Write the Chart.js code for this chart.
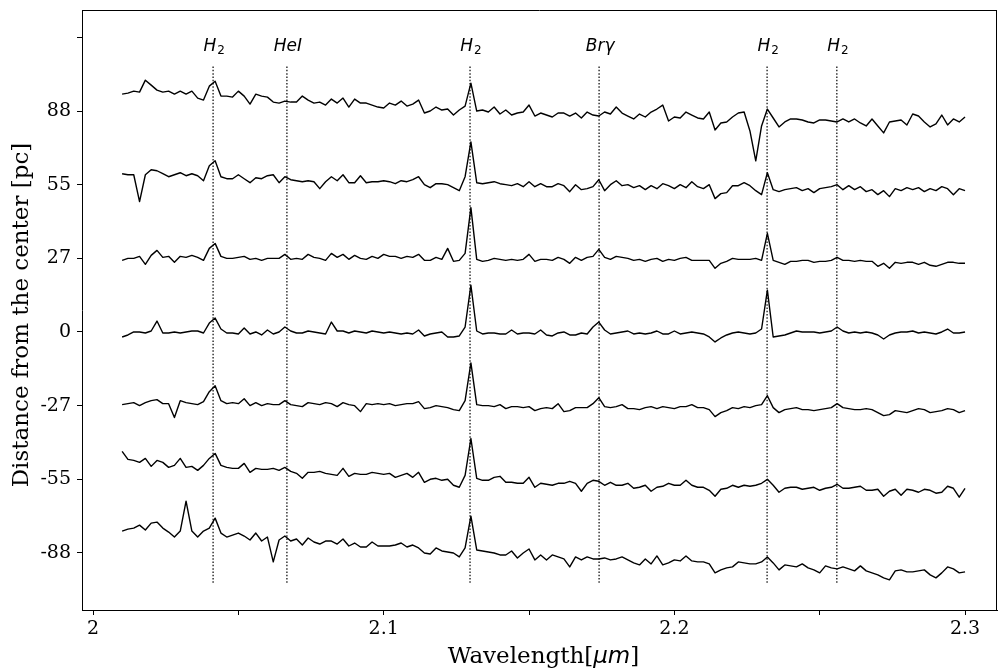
<!DOCTYPE html>
<html><head><meta charset="utf-8">
<script src="https://cdn.jsdelivr.net/npm/chart.js@4/dist/chart.umd.min.js"></script>
<style>html,body{margin:0;padding:0;background:#fff;overflow:hidden}#wrap{width:998px;height:670px}</style>
</head><body><div id="wrap"><canvas id="c" width="998" height="670"></canvas></div>
<script>
// Wavelength sampling of the spectra (micron)
const WL_START = 2.010;
const WL_STEP = 0.002;
// Distance labels for each spectrum (pc), bottom to top
const DISTANCE_LABELS = ['-88', '-55', '-27', '0', '27', '55', '88'];
// Vertical offset between successive spectra (flux units)
const SPACING = 74;
// Relative flux of each spectrum (146 samples each)
const FLUX_M88 = [22,24,25,28,23,30,31,25,21,16, 22,52,22,16,22,25,35,20,16,18, 20,17,13,20,12,16,-9,13,17,12,
  14,8,15,11,9,12,12,9,14,7, 10,6,6,11,7,7,7,8,10,6, 8,5,0,-1,5,2,1,0,-4,5, 37,3,2,1,0,-2,-2,2,-5,0,
  4,-7,-2,-7,-2,-4,-6,-14,-4,-7, -4,-6,-6,-5,-7,-6,-4,-7,-10,-12, -6,-11,-3,-12,-10,-7,-8,-3,-8,-9,
  -9,-11,-20,-17,-15,-14,-9,-10,-11,-11, -9,-4,-10,-17,-12,-13,-14,-11,-15,-17, -20,-13,-15,-16,-14,-16,-18,-13,-18,-20,
  -22,-25,-27,-18,-17,-19,-19,-18,-17,-22, -25,-20,-14,-16,-20,-19];
const FLUX_M55 = [28,20,19,17,21,13,19,17,12,14, 21,12,13,9,14,21,26,14,12,11, 11,16,7,11,10,10,11,9,12,8,
  6,1,7,7,8,6,5,4,11,3, 6,5,5,7,6,5,6,2,4,6, 2,7,-3,0,1,-1,0,-6,-8,4, 41,1,-1,-1,2,3,-3,-3,-4,-4,
  2,-8,-4,-5,-6,-4,-4,-2,-4,-12, -4,-1,-2,-6,-3,-6,-6,-4,-9,-8, -6,-12,-8,-7,-4,-6,-6,-1,-6,-8,
  -8,-11,-17,-10,-9,-6,-8,-6,-7,-6, -4,0,-6,-13,-9,-8,-8,-10,-9,-8, -11,-9,-8,-5,-9,-9,-8,-7,-11,-11,
  -10,-17,-12,-10,-16,-10,-11,-13,-10,-11, -14,-13,-7,-9,-18,-9];
const FLUX_M27 = [1,2,3,0,3,5,6,2,2,-12, 5,3,2,1,4,14,20,5,2,3, 2,7,0,3,0,2,1,1,5,1,
  0,-1,3,2,1,3,2,-1,3,1, 0,-6,2,1,2,1,2,0,1,2, 2,4,-3,-2,0,-1,-2,-4,-5,5, 43,1,0,0,-1,1,-3,-1,-1,-2,
  -1,-5,-3,-2,-3,2,-6,-5,-2,-2, -2,2,8,-1,-2,-1,1,-3,-3,-4, -2,-1,-3,-1,-2,-3,-1,-1,1,-2,
  -2,-4,-11,-7,-5,-2,-3,-1,-2,0, 1,10,-2,-7,-4,-3,-2,-4,-4,-5, -4,-3,-2,2,-2,-3,-4,-4,-3,-4,
  -7,-10,-9,-5,-6,-7,-5,-3,-4,-7, -6,-5,-3,-4,-7,-5];
const FLUX_0 = [-5,-3,0,0,-1,1,11,-1,-1,0, -1,0,1,1,-1,9,14,3,-1,-1, -2,4,-2,0,-3,2,-2,0,5,1,
  -1,-1,1,0,-1,-2,10,1,1,-1, 1,0,-1,1,0,-1,0,-1,-2,-1, -2,2,-4,-2,-1,0,-5,-5,-4,5, 47,1,-2,-1,-1,-2,-2,2,-2,-1,
  -1,-2,2,-3,-4,-1,0,-3,-3,-1, -2,5,10,2,-2,-1,0,1,-2,-1, -2,-1,1,-2,-2,1,-2,-1,0,-1,
  -2,-5,-10,-6,-3,-1,0,-1,-2,-1, 3,42,-5,-4,-3,-1,1,0,0,0, -1,0,1,5,1,-1,0,-1,0,-1,
  -3,-7,-3,-1,0,0,1,-1,0,-1, -2,0,3,-1,-1,0];
const FLUX_27 = [-2,0,0,2,-6,3,8,1,2,-4, 2,1,3,1,-2,10,15,2,0,0, 1,2,-1,0,-2,0,0,0,4,-1,
  0,-1,4,1,0,-2,5,1,4,-1, 3,0,-1,2,0,4,2,2,0,2, 1,4,-2,-2,1,-1,10,-3,-2,5, 51,-1,-3,-2,0,-1,-2,-1,-2,-1,
  4,-3,-1,-1,-2,1,-1,-5,1,-2, 1,2,9,1,-1,2,1,0,-2,-1, -3,-1,0,-3,-1,-2,0,1,-2,-2,
  -2,-2,-10,-5,-3,0,-1,-1,-1,0, -2,25,-2,-4,-6,-3,-3,-2,-2,-4, -3,-3,-2,1,-2,-2,-3,-2,-3,-3,
  -8,-5,-10,-4,-5,-4,-4,-6,-4,-7, -8,-6,-4,-4,-5,-5];
const FLUX_55 = [11,10,10,-17,10,15,14,11,8,10, 12,9,11,9,4,19,24,8,6,6, 10,6,2,7,6,9,10,2,8,5,
  4,3,4,3,-4,3,8,4,10,2, 2,9,2,3,3,4,3,1,4,3, 5,8,0,-3,1,1,0,-3,-6,8, 43,2,1,2,3,1,0,-1,1,-2,
  3,-2,1,-2,-2,1,-1,-7,0,-5, -4,-2,5,-6,0,4,-1,0,-3,-1, -5,-1,-4,1,-1,-4,0,-3,3,-2,
  -4,0,-14,-9,-8,-1,-1,2,-1,-6, -10,12,-5,-7,-5,-4,-3,-6,-4,-8, -4,-3,-2,0,-5,-1,-5,-2,-7,-5,
  -10,-6,-12,-4,-6,-3,-5,-3,-7,-4, -6,-2,-4,-10,-4,-6];
const FLUX_88 = [17,18,20,19,31,26,21,19,20,17, 20,17,20,13,11,25,30,15,15,14, 20,15,7,17,15,14,9,8,10,9,
  9,15,11,8,9,6,12,8,13,4, 12,8,8,6,4,3,8,6,10,5, 7,11,-2,0,4,1,2,-4,1,5, 28,0,1,-1,4,-3,1,-4,-2,-1,
  6,-5,-2,-4,-6,-2,-2,-5,-2,-7, -1,-4,-5,-1,-3,4,-2,-5,-8,-3, -6,-1,2,6,-10,-6,-7,-1,-4,-7,
  -8,-1,-19,-12,-11,-6,-2,-1,-20,-50, -15,2,-7,-16,-11,-8,-8,-9,-11,-12, -9,-9,-10,-11,-8,-11,-8,-12,-15,-8,
  -15,-22,-11,-10,-9,-14,-3,-5,-11,-16, -13,-4,-14,-8,-11,-6];
const SERIES = [FLUX_M88, FLUX_M55, FLUX_M27, FLUX_0, FLUX_27, FLUX_55, FLUX_88];

// Emission lines (micron) and their names
const LINE_WL = [2.0413, 2.0667, 2.1297, 2.1741, 2.2319, 2.2559];
const LINE_NAMES = ['H2', 'HeI', 'H2', 'Brγ', 'H2', 'H2'];
const LINE_Y_RANGE = [-30, 490];
const LINE_LABEL_Y = 504;

// Axis ticks
const X_TICKS = [2.0, 2.05, 2.1, 2.15, 2.2, 2.25, 2.3];
const Y_TICK_COUNT = 8;

const datasets = [];
SERIES.forEach((flux, i) => {
  datasets.push({
    data: flux.map((f, k) => ({ x: WL_START + k * WL_STEP, y: i * SPACING + f })),
    borderColor: '#000', borderWidth: 1.4, pointRadius: 0, fill: false, tension: 0,
    borderJoinStyle: 'round'
  });
});
LINE_WL.forEach(w => {
  datasets.push({
    data: [{ x: w, y: LINE_Y_RANGE[0] }, { x: w, y: LINE_Y_RANGE[1] }],
    borderColor: '#000', borderWidth: 1.2, borderDash: [1.5, 1.8], pointRadius: 0, fill: false
  });
});

const decor = {
  id: 'decor',
  afterDraw(chart) {
    const ctx = chart.ctx, a = chart.chartArea, xs = chart.scales.x, ys = chart.scales.y;
    ctx.save();
    ctx.strokeStyle = '#000'; ctx.lineWidth = 1;
    ctx.beginPath();
    ctx.moveTo(a.left, a.top + 0.5); ctx.lineTo(a.right, a.top + 0.5);
    ctx.moveTo(a.right - 0.5, a.top); ctx.lineTo(a.right - 0.5, a.bottom);
    ctx.stroke();
    // line labels
    ctx.fillStyle = '#000';
    ctx.textBaseline = 'alphabetic';
    const by = ys.getPixelForValue(LINE_LABEL_Y);
    LINE_WL.forEach((w, i) => {
      const name = LINE_NAMES[i];
      const cx = xs.getPixelForValue(w);
      if (name === 'H2') {
        ctx.font = 'italic 17px "DejaVu Sans"';
        const w1 = ctx.measureText('H').width;
        ctx.font = '12px "DejaVu Sans"';
        const w2 = ctx.measureText('2').width;
        const x0 = cx - (w1 + w2 + 1) / 2 + 1;
        ctx.font = 'italic 17px "DejaVu Sans"';
        ctx.textAlign = 'left';
        ctx.fillText('H', x0, by);
        ctx.font = '12px "DejaVu Sans"';
        ctx.fillText('2', x0 + w1 + 1, by + 3);
      } else {
        ctx.font = 'italic 17px "DejaVu Sans"';
        ctx.textAlign = 'center';
        ctx.fillText(name, cx + 1, by);
      }
    });
    // y title
    ctx.save();
    ctx.translate(22, (a.top + a.bottom) / 2 + 5);
    ctx.rotate(-Math.PI / 2);
    ctx.font = '23px "DejaVu Serif"';
    ctx.textAlign = 'center';
    ctx.textBaseline = 'middle';
    ctx.fillText('Distance from the center [pc]', 0, 0);
    ctx.restore();
    // x title
    ctx.font = '23px "DejaVu Serif"';
    const p1 = 'Wavelength[', p3 = ']';
    const w1 = ctx.measureText(p1).width, w3 = ctx.measureText(p3).width;
    ctx.font = 'italic 23px "DejaVu Sans"';
    const w2 = ctx.measureText('μm').width;
    let x = (a.left + a.right) / 2 - (w1 + w2 + w3) / 2 + 4;
    const ty = 663;
    ctx.textAlign = 'left';
    ctx.font = '23px "DejaVu Serif"'; ctx.fillText(p1, x, ty); x += w1;
    ctx.font = 'italic 23px "DejaVu Sans"'; ctx.fillText('μm', x, ty); x += w2;
    ctx.font = '23px "DejaVu Serif"'; ctx.fillText(p3, x, ty);
    ctx.restore();
  }
};

new Chart(document.getElementById('c'), {
  type: 'line',
  data: { datasets },
  plugins: [decor],
  options: {
    responsive: false, animation: false, devicePixelRatio: 1,
    layout: { padding: { top: 10, right: 1, left: 0, bottom: 0 } },
    plugins: { legend: { display: false }, tooltip: { enabled: false } },
    scales: {
      x: {
        type: 'linear', min: 1.9962, max: 2.311,
        afterFit: s => { s.height = 60; s.paddingLeft = 0; s.paddingRight = 0; },
        afterBuildTicks: s => { s.ticks = X_TICKS.map(v => ({ value: v })); },
        ticks: {
          autoSkip: false, maxRotation: 0, padding: 3, color: '#000',
          font: { family: 'DejaVu Serif', size: 19 },
          callback: v => (Math.abs(v * 10 - Math.round(v * 10)) < 1e-6 ? String(+v.toFixed(1)) : '')
        },
        grid: { display: true, drawOnChartArea: false, drawTicks: true, tickLength: 5, color: '#000', lineWidth: 1 },
        border: { display: true, color: '#000', width: 1 }
      },
      y: {
        type: 'linear', min: -57.3, max: 545.5,
        afterFit: s => { s.width = 82; s.paddingTop = 0; s.paddingBottom = 0; },
        afterBuildTicks: s => {
          const t = [];
          for (let i = 0; i < Y_TICK_COUNT; i++) t.push({ value: i * SPACING });
          s.ticks = t;
        },
        ticks: {
          autoSkip: false, padding: 6, color: '#000',
          font: { family: 'DejaVu Serif', size: 19 },
          callback: v => { const i = Math.round(v / SPACING); return DISTANCE_LABELS[i] !== undefined ? DISTANCE_LABELS[i] : ''; }
        },
        grid: { display: true, drawOnChartArea: false, drawTicks: true, tickLength: 5, color: '#000', lineWidth: 1 },
        border: { display: true, color: '#000', width: 1 }
      }
    }
  }
});
</script>
</body></html>
